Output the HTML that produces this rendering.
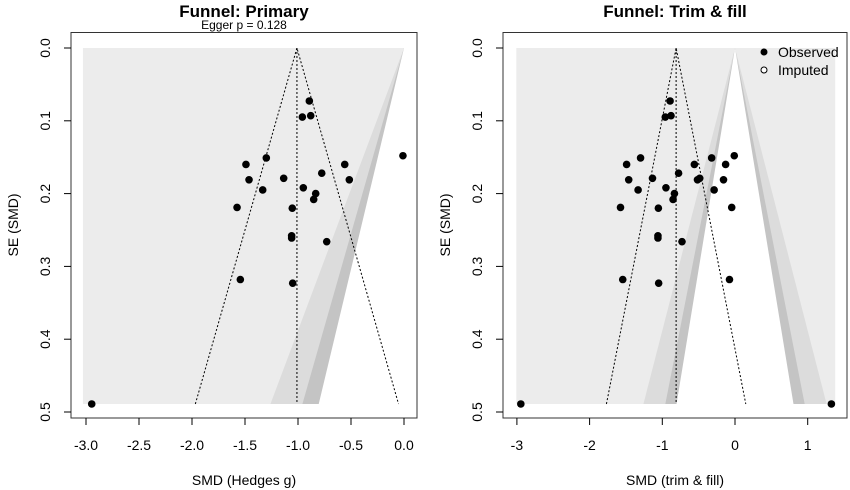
<!DOCTYPE html>
<html><head><meta charset="utf-8"><style>
body{margin:0;background:#fff;}
svg{display:block;font-family:"Liberation Sans",Arial,sans-serif;}
</style></head><body>
<svg id="chart" width="850" height="490" viewBox="0 0 850 490"></svg>
<script>
// data
const obsX = [-0.893,-0.959,-0.880,-0.01,-1.491,-1.299,-0.559,-1.462,-1.135,-0.776,-0.516,-1.333,-0.950,-0.833,-0.852,-1.575,-1.054,-1.06,-1.06,-0.729,-1.544,-1.05,-2.946];
const seObs = [0.0728,0.0948,0.093,0.148,0.160,0.151,0.160,0.181,0.179,0.172,0.181,0.195,0.192,0.200,0.208,0.219,0.220,0.258,0.261,0.266,0.318,0.323,0.489];
const impX = [-0.129,-0.321,-0.158,-0.485,-0.287,-0.045,-0.076,1.326];
const impSE = [0.160,0.151,0.181,0.179,0.195,0.219,0.318,0.489];
const primaryEstimate = -1.01;
const trimFillEstimate = -0.81;
const leftTicks = [-3.0,-2.5,-2.0,-1.5,-1.0,-0.5,0.0];
const rightTicks = [-3,-2,-1,0,1];
const seTicks = [0.0,0.1,0.2,0.3,0.4,0.5];
const seMax = 0.489;

const NS = "http://www.w3.org/2000/svg";
const svg = document.getElementById('chart');
function el(tag, attrs, parent, text){
  const e = document.createElementNS(NS, tag);
  for (const k in attrs) e.setAttribute(k, attrs[k]);
  if (text !== undefined) e.textContent = text;
  (parent || svg).appendChild(e);
  return e;
}
const yS = v => 48 + v * 728;

function panel(p){
  const g = el('g', {});
  
  
  const xS = v => p.x0 + v * p.k;
  const cid = 'clip-' + p.name;
  const cp = el('clipPath', {id: cid}, g);
  el('rect', {x: xS(p.rx0), y: yS(0), width: xS(p.rx1) - xS(p.rx0), height: yS(seMax) - yS(0)}, cp);
  const sh = el('g', {'clip-path': 'url(#' + cid + ')'}, g);
  
  
  el('rect', {x: xS(p.rx0), y: yS(0), width: xS(p.rx1) - xS(p.rx0), height: yS(seMax) - yS(0), fill: '#ececec'}, sh);
  const cone = (z, fill) => {
    const pts = [[0,0],[z*seMax,seMax],[-z*seMax,seMax]].map(q => xS(q[0]) + ',' + yS(q[1])).join(' ');
    el('polygon', {points: pts, fill: fill}, sh);
  };
  cone(2.576, '#dcdcdc');
  cone(1.96, '#c4c4c4');
  cone(1.645, '#ffffff');
  const c = p.est, d = 1.96 * seMax;
  const dl = {stroke: '#000', 'stroke-width': 1, 'stroke-dasharray': '2,2', fill: 'none'};
  const l1 = el('line', Object.assign({x1: xS(c), y1: yS(0), x2: xS(c), y2: yS(seMax)}, dl), g);
  
  
  const l2 = el('polyline', Object.assign({points: xS(c-d)+','+yS(seMax)+' '+xS(c)+','+yS(0)+' '+xS(c+d)+','+yS(seMax)}, dl), g);
  
  
  obsX.forEach((x, i) => {
    const pt = el('circle', {cx: xS(x), cy: yS(seObs[i]), r: 3.8, fill: '#000'}, g);
    
    
  });
  if (p.imputed) impX.forEach((x, i) => {
    const pt = el('circle', {cx: xS(x), cy: yS(impSE[i]), r: 3.8, fill: '#000'}, g);
    
    
  });
  const box = el('rect', {x: p.bx0, y: 32.5, width: p.bx1 - p.bx0, height: 418 - 32.5, fill: 'none', stroke: '#333', 'stroke-width': 1}, g);
  
  
  const xa = el('g', {}, g);
  
  
  p.ticks.forEach(t => {
    el('line', {x1: xS(t), x2: xS(t), y1: 418, y2: 425, stroke: '#000'}, xa);
    const tl = el('text', {x: xS(t), y: 450, 'text-anchor': 'middle', 'font-size': 14}, xa, p.fmt(t));
    
    
  });
  const xt = el('text', {x: (p.bx0 + p.bx1) / 2, y: 485, 'text-anchor': 'middle', 'font-size': 14}, g, p.xlab);
  
  
  const ya = el('g', {}, g);
  
  
  seTicks.forEach(t => {
    el('line', {x1: p.bx0 - 7, x2: p.bx0, y1: yS(t), y2: yS(t), stroke: '#000'}, ya);
    const tx = p.bx0 - 21, ty = yS(t);
    const tl = el('text', {x: tx, y: ty, 'text-anchor': 'middle', 'font-size': 14, transform: 'rotate(-90 ' + tx + ' ' + ty + ')'}, ya, t.toFixed(1));
    
    
  });
  const yx = p.bx0 - 53, yy = 225;
  const yt = el('text', {x: yx, y: yy, 'text-anchor': 'middle', 'font-size': 14, transform: 'rotate(-90 ' + yx + ' ' + yy + ')'}, g, 'SE (SMD)');
  
  
  const tt = el('text', {x: (p.bx0 + p.bx1) / 2, y: 17, 'text-anchor': 'middle', 'font-size': 17, 'font-weight': 'bold'}, g, p.title);
  
  
  return g;
}

panel({name: 'primary-panel', x0: 404, k: 106, rx0: -3.03, rx1: 0.0, est: primaryEstimate, bx0: 71, bx1: 417,
  ticks: leftTicks, fmt: t => t.toFixed(1), xlab: 'SMD (Hedges g)', title: 'Funnel: Primary', imputed: false});
panel({name: 'trim-fill-panel', x0: 735, k: 72.7, rx0: -3.01, rx1: 1.38, est: trimFillEstimate, bx0: 503, bx1: 847,
  ticks: rightTicks, fmt: t => String(t), xlab: 'SMD (trim & fill)', title: 'Funnel: Trim & fill', imputed: true});

const eg = el('text', {x: 244, y: 29, 'text-anchor': 'middle', 'font-size': 12}, svg, 'Egger p = 0.128');



const lg = el('g', {});


const le1 = el('g', {}, lg);


el('circle', {cx: 764, cy: 52, r: 3.5, fill: '#000'}, le1);
el('text', {x: 778, y: 57, 'font-size': 14}, le1, 'Observed');
const le2 = el('g', {}, lg);


el('circle', {cx: 764, cy: 70, r: 3, fill: '#fff', stroke: '#000', 'stroke-width': 1}, le2);
el('text', {x: 778, y: 75, 'font-size': 14}, le2, 'Imputed');
</script>
</body></html>
